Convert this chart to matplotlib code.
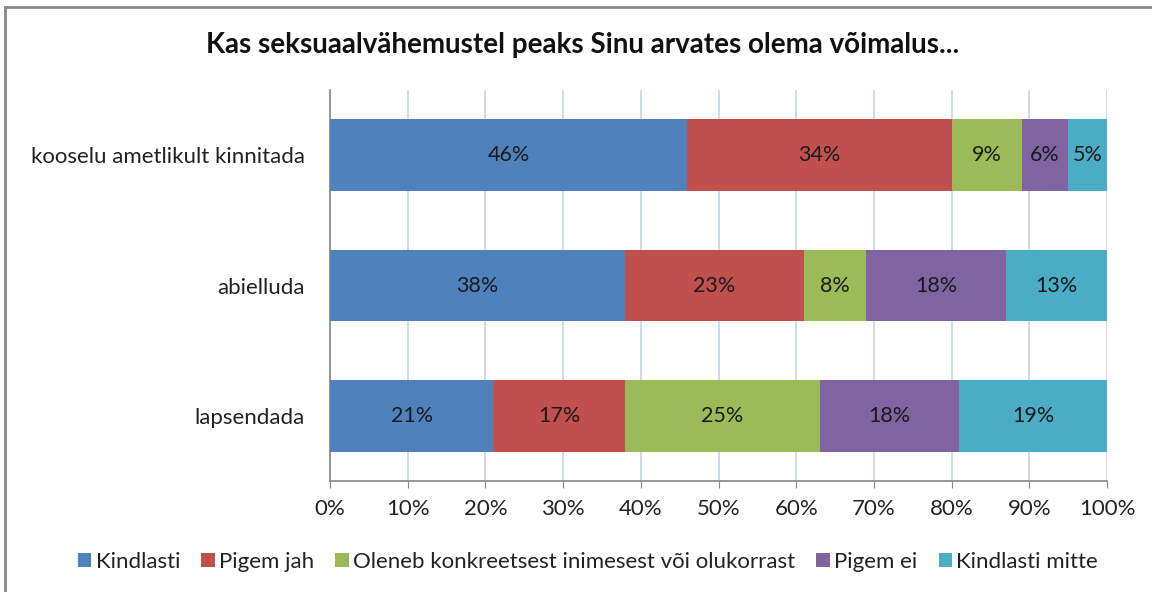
import matplotlib
matplotlib.use('Agg')
import matplotlib.pyplot as plt
from matplotlib.lines import Line2D
import numpy as np

plt.rcParams['font.family'] = ['Lato', 'DejaVu Sans']

title = 'Kas seksuaalvähemustel peaks Sinu arvates olema võimalus...'
categories = ['kooselu ametlikult kinnitada', 'abielluda', 'lapsendada']
series_names = ['Kindlasti', 'Pigem jah', 'Oleneb konkreetsest inimesest või olukorrast',
                'Pigem ei', 'Kindlasti mitte']
kindlasti = [46, 38, 21]
pigem_jah = [34, 23, 17]
oleneb = [9, 8, 25]
pigem_ei = [6, 18, 18]
kindlasti_mitte = [5, 13, 19]
colors = ['#4F81BD', '#C0504D', '#9BBB59', '#8064A2', '#4BACC6']

values = [kindlasti, pigem_jah, oleneb, pigem_ei, kindlasti_mitte]

fig = plt.figure(figsize=(11.52, 5.92), dpi=100)
ax = fig.add_axes([330 / 1152, 1 - 481 / 592, 777 / 1152, 391 / 592])

y = np.arange(len(categories))[::-1]
left = np.zeros(len(categories))
for name, vals, col in zip(series_names, values, colors):
    vals = np.array(vals, dtype=float)
    ax.barh(y, vals, left=left, height=0.55, color=col, label=name, zorder=3)
    for yi, l, v in zip(y, left, vals):
        ax.text(l + v / 2, yi, f'{int(v)}%', ha='center', va='center',
                fontsize=15.5, color='#1a1a1a', zorder=4)
    left += vals

ax.set_xlim(0, 100)
ax.set_ylim(-0.5, len(categories) - 0.5)
ax.set_xticks(np.arange(0, 101, 10))
ax.set_xticklabels([f'{t}%' for t in range(0, 101, 10)], fontsize=16, color='#222222')
ax.set_yticks(y)
ax.set_yticklabels(categories, fontsize=16, color='#222222')
ax.tick_params(axis='y', length=0, pad=18)
ax.tick_params(axis='x', length=5, color='#868686', direction='out', pad=8)
ax.grid(axis='x', color='#c5d5ea', linewidth=1.2, zorder=0)
for s in ['top', 'right']:
    ax.spines[s].set_visible(False)
for s in ['left', 'bottom']:
    ax.spines[s].set_color('#868686')
    ax.spines[s].set_linewidth(1.2)

fig.text(583 / 1152, 1 - 45 / 592, title, ha='center', va='center',
         fontsize=20, fontweight='bold', color='#111111')

ax.legend(loc='center', bbox_to_anchor=(588 / 1152, 1 - 562 / 592),
          bbox_transform=fig.transFigure, ncol=5, frameon=False,
          fontsize=16, handlelength=0.6, handleheight=0.6, handletextpad=0.2,
          columnspacing=0.95, labelcolor='#222222')

# chart border (only left and top visible in the crop)
fig.add_artist(Line2D([5 / 1152, 5 / 1152], [0, 1 - 7 / 592], transform=fig.transFigure,
                      color='#8a8a8a', linewidth=2))
fig.add_artist(Line2D([5 / 1152, 1], [1 - 7 / 592, 1 - 7 / 592], transform=fig.transFigure,
                      color='#8a8a8a', linewidth=2))

fig.savefig('out.png', dpi=100)
